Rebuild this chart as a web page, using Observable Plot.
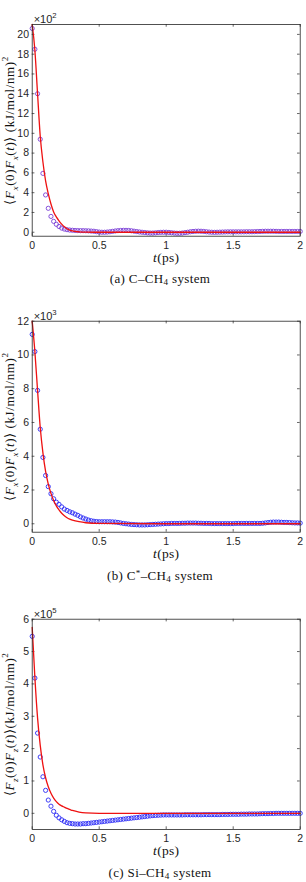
<!DOCTYPE html>
<html>
<head>
<meta charset="utf-8">
<script src="https://cdn.jsdelivr.net/npm/d3@7"></script>
<script src="https://cdn.jsdelivr.net/npm/@observablehq/plot@0.6"></script>
<style>
  html, body { margin: 0; padding: 0; background: #fff; }
  #wrap { position: relative; width: 306px; height: 882px; overflow: hidden; }
  .panel { position: absolute; left: 0; }
  .cap { position: absolute; left: 0; width: 320px; text-align: center;
         font-family: "Liberation Serif", serif; font-size: 13px; letter-spacing: 0.35px; color: #111; line-height: 1; }
  .cap sub { font-size: 70%; vertical-align: -0.25em; line-height: 0; }
  .cap sup { font-size: 70%; vertical-align: 0.45em; line-height: 0; }
</style>
</head>
<body>
<div id="wrap"></div>
<script>
// ---------------- data ----------------
const times = [0,0.02,0.04,0.06,0.08,0.1,0.12,0.14,0.16,0.18,0.2,0.22,0.24,0.26,0.28,0.3,0.32,0.34,0.36,0.38,
0.4,0.42,0.44,0.46,0.48,0.5,0.52,0.54,0.56,0.58,0.6,0.62,0.64,0.66,0.68,0.7,0.72,0.74,0.76,0.78,
0.8,0.82,0.84,0.86,0.88,0.9,0.92,0.94,0.96,0.98,1,1.02,1.04,1.06,1.08,1.1,1.12,1.14,1.16,1.18,
1.2,1.22,1.24,1.26,1.28,1.3,1.32,1.34,1.36,1.38,1.4,1.42,1.44,1.46,1.48,1.5,1.52,1.54,1.56,1.58,
1.6,1.62,1.64,1.66,1.68,1.7,1.72,1.74,1.76,1.78,1.8,1.82,1.84,1.86,1.88,1.9,1.92,1.94,1.96,1.98,2];

// (a) C-CH4 (x 10^2)
const mdA = [20.6,18.5,14.0,9.4,5.95,3.77,2.42,1.6,1.1,0.8,0.58,0.42,0.32,0.26,0.22,0.2,0.18,0.17,0.16,0.16,
0.15,0.14,0.12,0.1,0.06,0.02,0.0,0.0,0.02,0.05,0.09,0.13,0.16,0.18,0.19,0.19,0.18,0.15,0.11,0.07,
0.03,0.0,-0.03,-0.06,-0.08,-0.08,-0.06,-0.03,-0.01,0.0,0.0,-0.02,-0.05,-0.08,-0.1,-0.1,-0.08,-0.04,0.0,0.05,
0.08,0.1,0.11,0.1,0.08,0.05,0.02,0.0,-0.01,0.0,0.01,0.02,0.03,0.04,0.04,0.04,0.04,0.04,0.04,0.04,
0.05,0.05,0.05,0.06,0.07,0.08,0.09,0.1,0.1,0.1,0.1,0.09,0.08,0.08,0.08,0.08,0.08,0.08,0.08,0.08,0.08];

// (b) C*-CH4 (x 10^3)
const mdB = [11.22,10.2,7.9,5.6,3.93,2.86,2.2,1.78,1.48,1.28,1.15,1.0,0.87,0.79,0.71,0.65,0.57,0.5,0.41,0.34,
0.28,0.22,0.18,0.15,0.13,0.12,0.12,0.12,0.12,0.12,0.11,0.1,0.08,0.05,0.02,0.0,-0.02,-0.04,-0.05,-0.06,
-0.07,-0.07,-0.07,-0.06,-0.05,-0.04,-0.03,-0.02,-0.01,0.0,0.01,0.01,0.02,0.02,0.02,0.02,0.03,0.03,0.04,0.04,
0.04,0.04,0.03,0.03,0.02,0.02,0.02,0.01,0.01,0.01,0.01,0.01,0.01,0.01,0.01,0.01,0.02,0.02,0.02,0.02,
0.02,0.02,0.02,0.02,0.02,0.02,0.03,0.05,0.07,0.09,0.1,0.1,0.1,0.09,0.08,0.08,0.07,0.06,0.05,0.05,0.04];

// (c) Si-CH4 (x 10^5)
const mdC = [5.47,4.18,2.48,1.74,1.13,0.71,0.41,0.22,0.06,-0.06,-0.14,-0.2,-0.25,-0.29,-0.31,-0.32,-0.33,-0.33,-0.33,-0.32,
-0.32,-0.31,-0.3,-0.29,-0.28,-0.27,-0.26,-0.25,-0.24,-0.23,-0.22,-0.21,-0.2,-0.19,-0.18,-0.17,-0.16,-0.15,-0.14,-0.13,
-0.12,-0.11,-0.1,-0.09,-0.08,-0.07,-0.065,-0.06,-0.055,-0.05,-0.05,-0.05,-0.05,-0.05,-0.05,-0.05,-0.05,-0.045,-0.045,-0.045,
-0.045,-0.045,-0.045,-0.045,-0.04,-0.04,-0.04,-0.04,-0.04,-0.04,-0.04,-0.035,-0.035,-0.035,-0.03,-0.03,-0.03,-0.03,-0.025,-0.025,
-0.025,-0.02,-0.02,-0.02,-0.02,-0.015,-0.01,-0.01,-0.01,-0.005,-0.005,0,0,0,0,0,0,0,0,0,0];

// fitted curves (red)
const fitTimes = [0,0.02,0.04,0.06,0.08,0.1,0.12,0.14,0.16,0.18,0.2,0.22,0.24,0.26,0.28,0.3,0.35,0.4,0.5,1,1.5,2];
const fitA = [21,18.4,14.0,9.7,7.1,5.2,3.9,2.85,2.05,1.55,1.15,0.82,0.55,0.35,0.22,0.13,0.04,0.01,0,0,0,0];
const fitB = [12.0,10.2,7.9,5.7,4.2,3.1,2.35,1.8,1.38,1.06,0.82,0.62,0.47,0.36,0.28,0.22,0.12,0.06,0.02,0,0,0];
const fitC = [5.75,4.2,2.95,2.1,1.5,1.1,0.82,0.62,0.47,0.36,0.28,0.23,0.19,0.15,0.12,0.09,0.04,0.015,0,0,0,0];

const xTicks = [0, 0.5, 1, 1.5, 2];
const yTicksA = [0,2,4,6,8,10,12,14,16,18,20];
const yTicksB = [0,2,4,6,8,10,12];
const yTicksC = [0,1,2,3,4,5,6];

const captions = ["(a) C–CH<sub>4</sub> system", "(b) C<sup>*</sup>–CH<sub>4</sub> system", "(c) Si–CH<sub>4</sub> system"];
const exponents = ["2", "3", "5"];
const forceComp = ["x", "x", "z"];

// ---------------- drawing ----------------
const SVGNS = "http://www.w3.org/2000/svg";
function rich(svg, label, parts, fs, ls) {
  let text = svg.querySelector(`[aria-label="${label}"]`);
  if (!text) return;
  if (text.tagName.toLowerCase() !== "text") text = text.querySelector("text");
  if (!text) return;
  if (ls) text.setAttribute("letter-spacing", ls);
  while (text.firstChild) text.removeChild(text.firstChild);
  let shift = 0;
  for (const p of parts) {
    const ts = document.createElementNS(SVGNS, "tspan");
    const target = p.sub ? fs * 0.3 : p.sup ? -fs * 0.42 : 0;
    ts.setAttribute("dy", target - shift);
    shift = target;
    if (p.sub || p.sup) ts.setAttribute("font-size", fs * 0.7);
    if (p.it) ts.setAttribute("font-style", "italic");
    ts.textContent = p.s;
    text.appendChild(ts);
  }
}

const axisColor = "#262626";
function panel(opts) {
  const {md, fit, yDomain, yTicks, top, height, marginTop, marginBottom, exp, comp, dotColor, space} = opts;
  const marginLeft = 31.7, marginRight = 6.3;
  const plotH = height - marginTop - marginBottom;
  const tickLenY = 2.7 * (yDomain[1] - yDomain[0]) / plotH;
  const tickLenX = 2.7 * 2 / (306 - marginLeft - marginRight);
  const y0 = yDomain[0], y1 = yDomain[1];
  const mdData = times.map((t, i) => ({t, v: md[i]}));
  const fitData = fitTimes.map((t, i) => ({t, v: fit[i]}));
  const chart = Plot.plot({
    width: 306, height, marginLeft, marginRight, marginTop, marginBottom,
    style: {fontFamily: "'Liberation Sans', Arial, sans-serif", fontSize: "10px", color: axisColor, background: "transparent", overflow: "visible"},
    x: {domain: [0, 2]},
    y: {domain: yDomain},
    marks: [
      Plot.axisX(xTicks, {tickSize: 0, tickPadding: 5.5, tickFormat: d => String(d), label: null, fontSize: 10.5, fill: axisColor}),
      Plot.axisY(yTicks, {tickSize: 0, tickPadding: 3.2, tickFormat: d => String(d), label: null, fontSize: 10.5, fill: axisColor}),
      Plot.ruleY(yTicks, {y: d => d, x1: 0, x2: tickLenX, stroke: axisColor, strokeWidth: 0.7}),
      Plot.ruleY(yTicks, {y: d => d, x1: 2 - tickLenX, x2: 2, stroke: axisColor, strokeWidth: 0.7}),
      Plot.ruleX(xTicks, {x: d => d, y1: y0, y2: y0 + tickLenY, stroke: axisColor, strokeWidth: 0.7}),
      Plot.ruleX(xTicks, {x: d => d, y1: y1 - tickLenY, y2: y1, stroke: axisColor, strokeWidth: 0.7}),
      Plot.dot(mdData, {x: "t", y: "v", r: 2.1, stroke: dotColor, strokeWidth: 0.9, fill: "none"}),
      Plot.line(fitData, {x: "t", y: "v", stroke: "#ee1111", strokeWidth: 1.3, curve: "monotone-x"}),
      Plot.frame({stroke: axisColor, strokeWidth: 0.8}),
      Plot.text(["ylab"], {frameAnchor: "left", dx: -22.5, rotate: -90, textAnchor: "middle", lineAnchor: "middle",
        fontFamily: "'Liberation Serif', serif", fontSize: 13, fill: "#111", ariaLabel: () => "ylab"}),
      Plot.text(["xlab"], {frameAnchor: "bottom", dy: 21, textAnchor: "middle", lineAnchor: "middle",
        fontFamily: "'Liberation Serif', serif", fontSize: 13.5, fill: "#111", ariaLabel: () => "xlab"}),
      Plot.text(["exp"], {frameAnchor: "top-left", dx: 1.5, dy: -5, textAnchor: "start", lineAnchor: "middle",
        fontSize: 11, fill: axisColor, ariaLabel: () => "explab"})
    ]
  });
  rich(chart, "ylab", [
    {s: "⟨"}, {s: "F", it: true}, {s: comp, it: true, sub: true}, {s: "(0)"},
    {s: "F", it: true}, {s: comp, it: true, sub: true}, {s: "("}, {s: "t", it: true},
    {s: ")⟩" + space + "(kJ/mol/nm)"}, {s: "2", sup: true}
  ], 13, "0.6");
  rich(chart, "xlab", [{s: "t", it: true}, {s: "(ps)"}], 13.5, "0.3");
  rich(chart, "explab", [{s: "×10"}, {s: exp, sup: true}], 11);
  const div = document.createElement("div");
  div.className = "panel";
  div.style.top = top + "px";
  div.appendChild(chart);
  return div;
}

const wrap = document.getElementById("wrap");
wrap.appendChild(panel({md: mdA, fit: fitA, yDomain: [-0.4, 21], yTicks: yTicksA, top: 0, height: 262,
  marginTop: 24, marginBottom: 26.3, exp: exponents[0], comp: forceComp[0], dotColor: "#7a3fd6", space: " "}));
wrap.appendChild(panel({md: mdB, fit: fitB, yDomain: [-0.5, 12], yTicks: yTicksB, top: 296, height: 262,
  marginTop: 24.7, marginBottom: 26.3, exp: exponents[1], comp: forceComp[1], dotColor: "#2a2af5", space: " "}));
wrap.appendChild(panel({md: mdC, fit: fitC, yDomain: [-0.5, 6], yTicks: yTicksC, top: 594, height: 262,
  marginTop: 24.7, marginBottom: 27, exp: exponents[2], comp: forceComp[2], dotColor: "#2a2af5", space: ""}));

const capCenters = [278, 575, 872.7];
captions.forEach((c, i) => {
  const d = document.createElement("div");
  d.className = "cap";
  d.innerHTML = c;
  d.style.top = (capCenters[i] - 6.5) + "px";
  wrap.appendChild(d);
});
</script>
</body>
</html>
